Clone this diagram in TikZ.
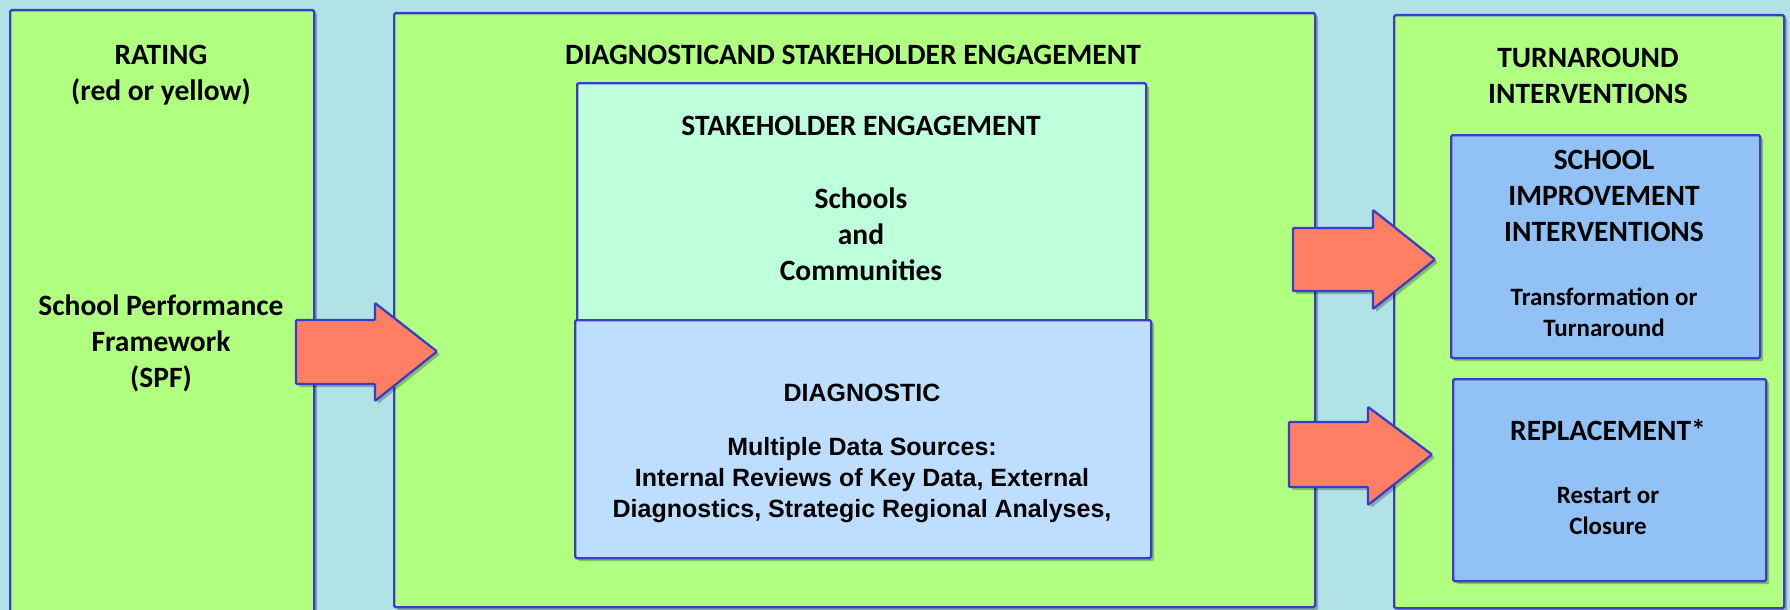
\documentclass[tikz,border=0pt]{standalone}
\usepackage{fontspec}
\setmainfont{Carlito}
\newfontfamily\arialf{Liberation Sans}
\usetikzlibrary{shadows}
\definecolor{bgc}{RGB}{176,226,230}
\definecolor{grn}{RGB}{176,255,128}
\definecolor{mint}{RGB}{190,255,220}
\definecolor{lblue}{RGB}{190,222,255}
\definecolor{sblue}{RGB}{146,194,245}
\definecolor{bord}{RGB}{60,60,200}
\definecolor{arr}{RGB}{255,127,100}
\begin{document}
\begin{tikzpicture}[x=1pt,y=-1pt,
  box/.style={draw=bord, line width=2.3pt, rounded corners=1.5pt, inner sep=0pt, anchor=north west,
    drop shadow={shadow xshift=3pt, shadow yshift=-3pt, opacity=0.25, fill=black}},
  bigarrow/.style={draw=bord, line width=2.3pt, fill=arr, rounded corners=1pt,
    drop shadow={shadow xshift=3pt, shadow yshift=-3pt, opacity=0.25, fill=black}},
  cal/.style={font=\bfseries\fontsize{29.5}{36}\selectfont, align=center, inner sep=0pt},
  calsm/.style={font=\bfseries\fontsize{25}{31}\selectfont, align=center, inner sep=0pt},
  ari/.style={font=\arialf\bfseries\fontsize{25}{31}\selectfont, align=center, inner sep=0pt}]
\useasboundingbox (0,0) rectangle (1790,610);
\clip (0,0) rectangle (1790,610);
\fill[bgc] (0,0) rectangle (1790,610);
% outer boxes
\node[box, fill=grn, minimum width=304pt, minimum height=640pt] (rating) at (9,9) {};
\node[box, fill=grn, minimum width=921pt, minimum height=594pt] (diagall) at (393,12) {};
\node[box, fill=grn, minimum width=390pt, minimum height=593pt] (turn) at (1393,14) {};
% inner boxes
\node[box, fill=mint, minimum width=569pt, minimum height=238pt] (stake) at (576,82) {};
\node[box, fill=lblue, minimum width=576pt, minimum height=238pt] (diag) at (574,319) {};
\node[box, fill=sblue, minimum width=309pt, minimum height=223pt] (improve) at (1450,134) {};
\node[box, fill=sblue, minimum width=313pt, minimum height=202pt] (replace) at (1452,378) {};
% texts
\node[cal] (ratingt) at (161,75.5) {RATING\\(red or yellow)};
\node[cal] (spf) at (161,343) {School Performance\\Framework\\(SPF)};
\node[cal] (diagallt) at (853,55) {DIAGNOSTICAND STAKEHOLDER ENGAGEMENT};
\node[cal] (staket) at (861,126) {STAKEHOLDER ENGAGEMENT};
\node[cal] (schools) at (861,234) {Schools\\and\\Communities};
\node[ari] (diagt) at (862,393) {DIAGNOSTIC};
\node[ari] (diagtx) at (862,480) {Multiple Data Sources:\\Internal Reviews of Key Data, External\\Diagnostics, Strategic Regional Analyses,};
\node[cal] (turnt) at (1588,75.5) {TURNAROUND\\INTERVENTIONS};
\node[cal] (improvet) at (1604,196) {SCHOOL\\IMPROVEMENT\\INTERVENTIONS};
\node[calsm] (improvetx) at (1604,312.5) {Transformation or\\Turnaround};
\node[cal] (replacet) at (1608,430) {REPLACEMENT*};
\node[calsm] (replacetx) at (1608,511) {Restart or\\Closure};
% arrows
\draw[bigarrow] (296,320) -- (375,320) -- (375,303) -- (437,351.5) -- (375,401) -- (375,384) -- (296,384) -- cycle;
\draw[bigarrow] (1293,228) -- (1373,228) -- (1373,210) -- (1435,259.5) -- (1373,309) -- (1373,291) -- (1293,291) -- cycle;
\draw[bigarrow] (1289,422) -- (1368,422) -- (1368,407) -- (1432,454.5) -- (1368,505) -- (1368,487) -- (1289,487) -- cycle;
\end{tikzpicture}
\end{document}
